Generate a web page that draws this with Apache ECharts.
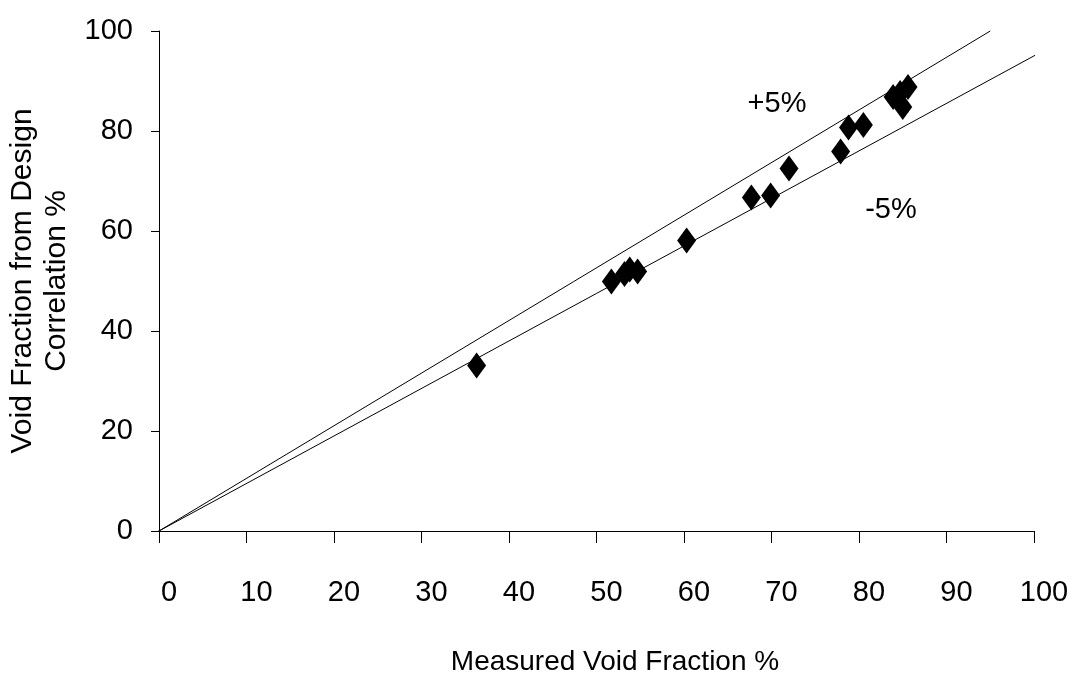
<!DOCTYPE html>
<html>
<head>
<meta charset="utf-8">
<script src="https://cdn.jsdelivr.net/npm/echarts@6/dist/echarts.min.js"></script>
<style>
html,body{margin:0;padding:0;background:#fff;}
#chart{width:1071px;height:677px;}
</style>
</head>
<body>
<div id="chart"></div>
<script>
const measured = [36.3, 51.7, 53.2, 53.8, 54.7, 60.3, 67.7, 69.9, 72.0, 77.9, 78.8, 80.5, 83.9, 84.7, 85.6, 85.0];
const correlation = [33.1, 49.9, 51.4, 52.3, 51.9, 58.1, 66.7, 67.1, 72.5, 75.9, 80.7, 81.2, 86.8, 87.6, 88.8, 84.8];
const plusLine = [[-0.6, -0.63], [95, 100]];
const minusLine = [[-0.6, -0.57], [100.5, 95.5]];
const xTicks = [0, 10, 20, 30, 40, 50, 60, 70, 80, 90, 100];
const yTicks = [0, 20, 40, 60, 80, 100];
const labels = ['+5%', '-5%'];

const font = '"Liberation Sans", Arial, sans-serif';
const points = measured.map((x, i) => [x, correlation[i]]);

const chart = echarts.init(document.getElementById('chart'));
chart.setOption({
  animation: false,
  backgroundColor: '#fff',
  grid: {left: 159, right: 37, top: 31, bottom: 146, containLabel: false, outerBoundsMode: 'none'},
  xAxis: {
    type: 'value', min: 0, max: 100, interval: 10,
    name: 'Measured Void Fraction %', nameLocation: 'middle', nameGap: 117,
    nameTextStyle: {color: '#000', fontSize: 28, fontFamily: font, padding: [0, 0, 0, 37]},
    axisLine: {show: true, onZero: false, lineStyle: {color: '#000', width: 1}},
    axisTick: {show: true, inside: false, length: 12, lineStyle: {color: '#000'}},
    axisLabel: {color: '#000', fontSize: 29, fontFamily: font, margin: 47, padding: [0, 0, 0, 20],
      formatter: v => xTicks.includes(v) ? String(v) : ''},
    splitLine: {show: false}
  },
  yAxis: {
    type: 'value', min: 0, max: 100, interval: 20,
    name: 'Void Fraction from Design\nCorrelation %', nameLocation: 'middle', nameGap: 82,
    nameTextStyle: {color: '#000', fontSize: 30, fontFamily: font, lineHeight: 34},
    axisLine: {show: true, onZero: false, lineStyle: {color: '#000', width: 1}},
    axisTick: {show: true, inside: false, length: 8, lineStyle: {color: '#000'}},
    axisLabel: {color: '#000', fontSize: 29, fontFamily: font, margin: 26,
      formatter: v => yTicks.includes(v) ? String(v) : ''},
    splitLine: {show: false}
  },
  series: [
    {type: 'line', data: plusLine, showSymbol: false, symbol: 'none', clip: false,
      lineStyle: {color: '#000', width: 1}, silent: true},
    {type: 'line', data: minusLine, showSymbol: false, symbol: 'none', clip: false,
      lineStyle: {color: '#000', width: 1}, silent: true},
    {type: 'scatter', data: points, symbol: 'diamond', symbolSize: [19, 26],
      itemStyle: {color: '#000', opacity: 1}}
  ],
  graphic: [
    {type: 'text', x: 777, y: 104, style: {text: labels[0], fill: '#000', font: '29px ' + font, align: 'center', verticalAlign: 'middle'}},
    {type: 'text', x: 891, y: 210, style: {text: labels[1], fill: '#000', font: '29px ' + font, align: 'center', verticalAlign: 'middle'}}
  ]
});
</script>
</body>
</html>
